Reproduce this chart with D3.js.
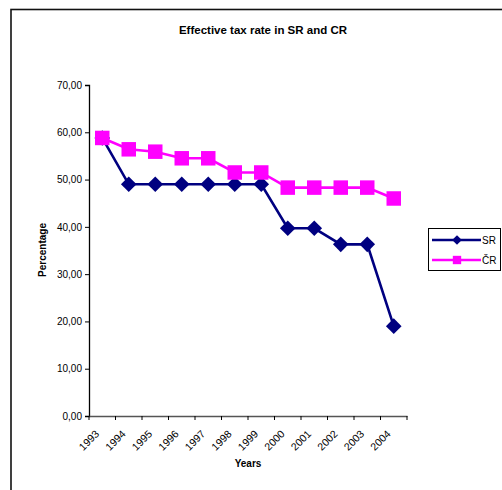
<!DOCTYPE html>
<html>
<head>
<meta charset="utf-8">
<script src="https://cdn.jsdelivr.net/npm/d3@7"></script>
<style>
  html, body { margin: 0; padding: 0; background: #fff; }
  svg { display: block; }
  text { font-family: "Liberation Sans", Arial, sans-serif; fill: #000; }
</style>
</head>
<body>
<svg id="chart" width="502" height="490"></svg>
<script>
// Effective tax rate (%) by year
const years = ["1993","1994","1995","1996","1997","1998","1999","2000","2001","2002","2003","2004"];
const srValues = [58.8, 49.0, 49.0, 49.0, 49.0, 49.0, 49.0, 39.7, 39.7, 36.3, 36.3, 19.0];
const crValues = [58.8, 56.4, 55.9, 54.5, 54.5, 51.5, 51.5, 48.3, 48.3, 48.3, 48.3, 46.0];
const yTicks = [0, 10, 20, 30, 40, 50, 60, 70];
const seriesNames = ["SR", "ČR"];
const seriesColors = ["#000080", "#FF00FF"];

const svg = d3.select("#chart");

// Outer chart frame
svg.append("rect")
  .attr("x", 11).attr("y", 9.5)
  .attr("width", 520).attr("height", 520)
  .attr("fill", "#fff").attr("stroke", "#111").attr("stroke-width", 1.6);

const plot = { left: 89, right: 407, top: 85, bottom: 416 };

const x = d3.scaleBand().domain(years).range([plot.left, plot.right]);
const y = d3.scaleLinear().domain([0, 70]).range([plot.bottom, plot.top]);

// Title
svg.append("text")
  .attr("x", 263).attr("y", 34)
  .attr("text-anchor", "middle")
  .style("font-size", "11.5px").style("font-weight", "bold")
  .text("Effective tax rate in SR and CR");

// Y axis
const fmt = d => d.toFixed(2).replace(".", ",");
const yAxis = svg.append("g")
  .attr("transform", `translate(${plot.left},0)`)
  .call(d3.axisLeft(y).tickValues(yTicks).tickFormat(fmt).tickSize(4).tickPadding(3));
yAxis.select(".domain").attr("stroke", "#000").attr("stroke-width", 1.3);
yAxis.selectAll(".tick line").attr("stroke", "#000");
yAxis.selectAll(".tick text").style("font-size", "10px").style("font-family", "Liberation Sans, Arial, sans-serif").attr("fill", "#000");

// X axis (category ticks sit on band boundaries)
const xAxis = svg.append("g")
  .attr("transform", `translate(0,${plot.bottom})`)
  .call(d3.axisBottom(x).tickSize(0).tickFormat(""));
xAxis.select(".domain").attr("stroke", "#555").attr("stroke-width", 1.5);
xAxis.selectAll(".tick").remove();
const boundaries = years.map(d => x(d)).concat([plot.right]);
xAxis.selectAll("line.bt").data(boundaries).enter().append("line")
  .attr("class", "bt")
  .attr("x1", d => d).attr("x2", d => d)
  .attr("y1", 0).attr("y2", 4)
  .attr("stroke", "#000");
xAxis.selectAll("text.yl").data(years).enter().append("text")
  .attr("class", "yl")
  .attr("transform", d => `translate(${x(d) + x.bandwidth() / 2 - 5},${16}) rotate(-45)`)
  .attr("text-anchor", "end")
  .attr("dy", "0.35em")
  .style("font-size", "10.5px")
  .text(d => d);

// Axis titles
svg.append("text")
  .attr("transform", `translate(46,250) rotate(-90)`)
  .attr("text-anchor", "middle")
  .style("font-size", "10px").style("font-weight", "bold")
  .text("Percentage");
svg.append("text")
  .attr("x", 248).attr("y", 467)
  .attr("text-anchor", "middle")
  .style("font-size", "10px").style("font-weight", "bold")
  .text("Years");

const cx = d => x(d) + x.bandwidth() / 2;
const line = d3.line().x(d => cx(d.year)).y(d => y(d.v));

function drawSeries(values, color, shape) {
  const data = years.map((yr, i) => ({ year: yr, v: values[i] }));
  svg.append("path").datum(data)
    .attr("d", line).attr("fill", "none")
    .attr("stroke", color).attr("stroke-width", 2.6);
  const sym = d3.symbol().type(shape === "square" ? d3.symbolSquare : d3.symbolDiamond2)
    .size(shape === "square" ? 210 : 155);
  svg.selectAll(null).data(data).enter().append("path")
    .attr("d", sym)
    .attr("transform", d => `translate(${cx(d.year)},${y(d.v)})`)
    .attr("fill", color);
}

drawSeries(srValues, seriesColors[0], "diamond");
drawSeries(crValues, seriesColors[1], "square");

// Legend
const lg = svg.append("g");
lg.append("rect")
  .attr("x", 428.5).attr("y", 228.5).attr("width", 72).attr("height", 42)
  .attr("fill", "#fff").attr("stroke", "#000").attr("stroke-width", 1);
seriesNames.forEach((name, i) => {
  const ly = 240 + i * 20;
  lg.append("line").attr("x1", 432).attr("x2", 481).attr("y1", ly).attr("y2", ly)
    .attr("stroke", seriesColors[i]).attr("stroke-width", 2.6);
  lg.append("path")
    .attr("d", d3.symbol().type(i === 0 ? d3.symbolDiamond2 : d3.symbolSquare).size(i === 0 ? 60 : 70))
    .attr("transform", `translate(457,${ly})`)
    .attr("fill", seriesColors[i]);
  lg.append("text").attr("x", 482).attr("y", ly).attr("dy", "0.35em")
    .style("font-size", "10px").text(name);
});
</script>
</body>
</html>
